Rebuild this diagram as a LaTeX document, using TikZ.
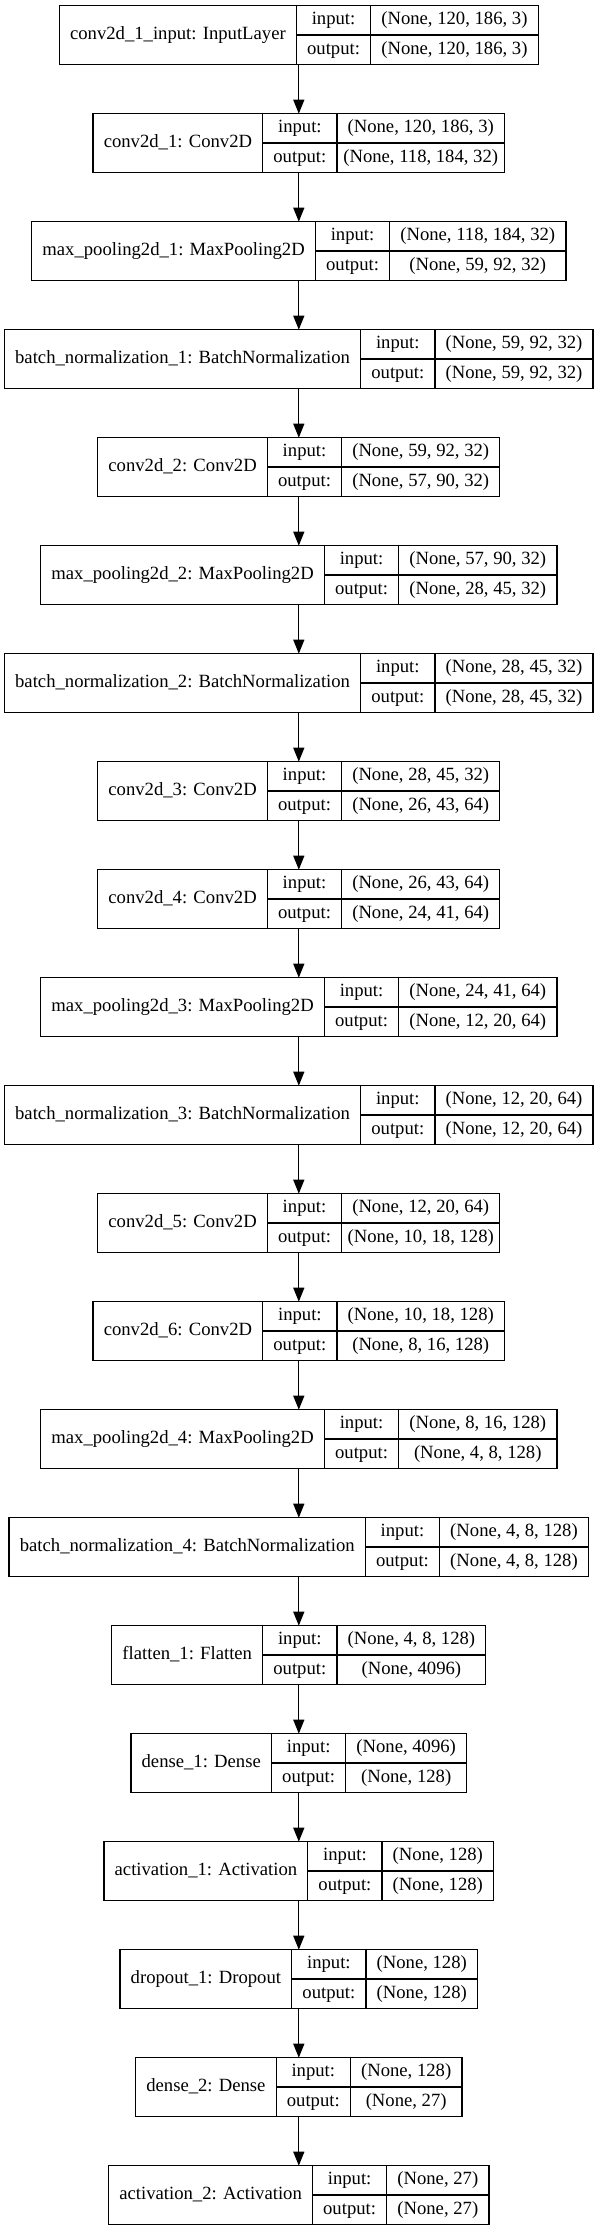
\documentclass[tikz,border=0pt]{standalone}
\usepackage{fontspec}
\setmainfont{Liberation Serif}
\usetikzlibrary{arrows.meta}
\font\LF="Liberation Serif" at 14pt
\newlength\wA \newlength\wB \newlength\wC \newlength\wD \newlength\wTot
\tikzset{
  fld/.style={draw=none, inner sep=0pt, outer sep=0pt, font=\LF,
              text height=9.6pt, text depth=3pt, align=center},
  recbox/.style={draw=none, inner sep=0pt, outer sep=0pt, minimum height=44pt},
  recline/.style={draw=black, line width=1pt},
  arr/.style={draw=black, line width=1pt, -{Triangle[length=10.5pt,width=8.25pt]}}
}
% #1 name, #2 center y (px), #3 label, #4 input shape, #5 output shape
\newcommand\layerbox[5]{%
  \setbox0=\hbox{\LF #3}\wA=\wd0 \addtolength\wA{16pt}%
  \setbox0=\hbox{\LF output:}\wB=\wd0 \addtolength\wB{16pt}%
  \setbox0=\hbox{\LF #4}\wC=\wd0
  \setbox0=\hbox{\LF #5}\wD=\wd0
  \ifdim\wD>\wC \wC=\wD\fi \addtolength\wC{16pt}%
  \wTot=\dimexpr\wA+\wB+\wC\relax
  \node[recbox, minimum width=\wTot] (#1) at (298.8,#2) {};
  \node[fld, minimum width=\wA, minimum height=44pt, anchor=west] (#1-n) at (#1.west) {#3};
  \node[fld, minimum width=\wB, minimum height=22pt, anchor=north west] (#1-ik) at (#1-n.north east) {input:};
  \node[fld, minimum width=\wB, minimum height=22pt, anchor=north west] (#1-ok) at (#1-ik.south west) {output:};
  \node[fld, minimum width=\wC, minimum height=22pt, anchor=north west] (#1-iv) at (#1-ik.north east) {#4};
  \node[fld, minimum width=\wC, minimum height=22pt, anchor=north west] (#1-ov) at (#1-iv.south west) {#5};
  \draw[recline] (#1.north west) rectangle (#1.south east);
  \draw[recline] (#1-n.north east) -- (#1-n.south east);
  \draw[recline] (#1-ik.north east) -- (#1-ok.south east);
  \draw[recline] (#1-ik.south west) -- (#1-iv.south east);
}
\begin{document}
\begin{tikzpicture}[x=0.75pt, y=-0.75pt]
\useasboundingbox[fill=white] (0,0) rectangle (598,2231);
\layerbox{L0}{35}{conv2d\_1\_input: InputLayer}{(None, 120, 186, 3)}{(None, 120, 186, 3)}
\layerbox{L1}{143}{conv2d\_1: Conv2D}{(None, 120, 186, 3)}{(None, 118, 184, 32)}
\layerbox{L2}{251}{max\_pooling2d\_1: MaxPooling2D}{(None, 118, 184, 32)}{(None, 59, 92, 32)}
\layerbox{L3}{359}{batch\_normalization\_1: BatchNormalization}{(None, 59, 92, 32)}{(None, 59, 92, 32)}
\layerbox{L4}{467}{conv2d\_2: Conv2D}{(None, 59, 92, 32)}{(None, 57, 90, 32)}
\layerbox{L5}{575}{max\_pooling2d\_2: MaxPooling2D}{(None, 57, 90, 32)}{(None, 28, 45, 32)}
\layerbox{L6}{683}{batch\_normalization\_2: BatchNormalization}{(None, 28, 45, 32)}{(None, 28, 45, 32)}
\layerbox{L7}{791}{conv2d\_3: Conv2D}{(None, 28, 45, 32)}{(None, 26, 43, 64)}
\layerbox{L8}{899}{conv2d\_4: Conv2D}{(None, 26, 43, 64)}{(None, 24, 41, 64)}
\layerbox{L9}{1007}{max\_pooling2d\_3: MaxPooling2D}{(None, 24, 41, 64)}{(None, 12, 20, 64)}
\layerbox{L10}{1115}{batch\_normalization\_3: BatchNormalization}{(None, 12, 20, 64)}{(None, 12, 20, 64)}
\layerbox{L11}{1223}{conv2d\_5: Conv2D}{(None, 12, 20, 64)}{(None, 10, 18, 128)}
\layerbox{L12}{1331}{conv2d\_6: Conv2D}{(None, 10, 18, 128)}{(None, 8, 16, 128)}
\layerbox{L13}{1439}{max\_pooling2d\_4: MaxPooling2D}{(None, 8, 16, 128)}{(None, 4, 8, 128)}
\layerbox{L14}{1547}{batch\_normalization\_4: BatchNormalization}{(None, 4, 8, 128)}{(None, 4, 8, 128)}
\layerbox{L15}{1655}{flatten\_1: Flatten}{(None, 4, 8, 128)}{(None, 4096)}
\layerbox{L16}{1763}{dense\_1: Dense}{(None, 4096)}{(None, 128)}
\layerbox{L17}{1871}{activation\_1: Activation}{(None, 128)}{(None, 128)}
\layerbox{L18}{1979}{dropout\_1: Dropout}{(None, 128)}{(None, 128)}
\layerbox{L19}{2087}{dense\_2: Dense}{(None, 128)}{(None, 27)}
\layerbox{L20}{2195}{activation\_2: Activation}{(None, 27)}{(None, 27)}
\foreach \i [evaluate=\i as \j using int(\i+1)] in {0,...,19}
  \draw[arr] (L\i.south) -- (L\j.north);
\end{tikzpicture}
\end{document}
